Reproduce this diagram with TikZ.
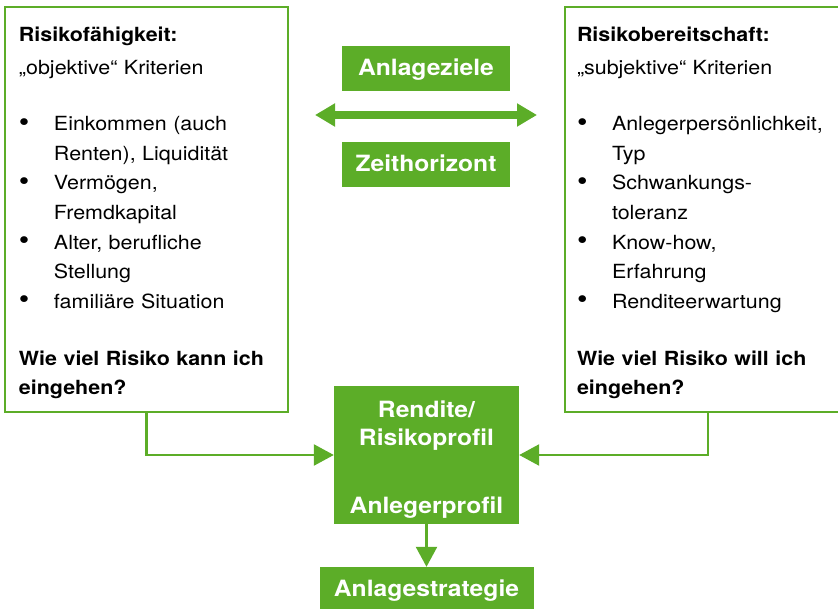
\documentclass[tikz,border=0pt]{standalone}
\usepackage{fontspec}
\setmainfont{TeX Gyre Heros}[FakeStretch=1.1]
\usetikzlibrary{arrows.meta}

\definecolor{anlagegruen}{RGB}{92,173,40}
\newlength{\einzug}
\setlength{\einzug}{35pt}
\newcommand{\punkt}{\makebox[\einzug][l]{\raisebox{-0.6pt}{\scalebox{1.4}{\textbullet}}}}
\newcommand{\weiter}{\hspace*{\einzug}}

\tikzset{
  rahmen/.style={draw=anlagegruen, line width=2.5pt, align=left, inner sep=0pt,
    minimum height=405pt, font=\fontsize{19.5}{29.6}\selectfont},
  gruenbox/.style={fill=anlagegruen, text=white, align=center, inner sep=0pt,
    font=\bfseries\fontsize{22.4}{28}\selectfont},
  gruenzeile/.style={gruenbox, text height=17pt, text depth=2.6pt},
  verbinder/.style={draw=anlagegruen, line width=2.5pt, -{Triangle[length=20pt,width=21pt]}}
}

\begin{document}
\begin{tikzpicture}[x=1pt,y=-1pt]
\useasboundingbox (0,0) rectangle (838,609);
\clip (0,0) rectangle (838,609);

% Risikofaehigkeit
\node[rahmen, minimum width=283pt, text width=255pt] (faehigkeit) at (146.5,209.5) {%
\rule{0pt}{22pt}\textbf{Risikofähigkeit:}\\[3.4pt]
„objektive“ Kriterien\\[26.4pt]
\punkt Einkommen (auch\\
\weiter Renten), Liquidität\\
\punkt Vermögen,\\
\weiter Fremdkapital\\
\punkt Alter, berufliche\\
\weiter Stellung\\
\punkt familiäre Situation\\[27.4pt]
\textbf{Wie viel Risiko kann ich}\\
\textbf{eingehen?}};

% Risikobereitschaft
\node[rahmen, minimum width=286pt, text width=262pt] (bereitschaft) at (708,209.5) {%
\rule{0pt}{22pt}\textbf{Risikobereitschaft:}\\[3.4pt]
„subjektive“ Kriterien\\[26.4pt]
\punkt Anlegerpersönlichkeit,\\
\weiter Typ\\
\punkt Schwankungs-\\
\weiter toleranz\\
\punkt Know-how,\\
\weiter Erfahrung\\
\punkt Renditeerwartung\\[27.4pt]
\textbf{Wie viel Risiko will ich}\\
\textbf{eingehen?}};

% Mitte
\node[gruenzeile, minimum width=168pt, minimum height=45pt] (ziele) at (426,68.5) {Anlageziele};
\node[gruenzeile, minimum width=168pt, minimum height=45pt, below of=ziele, node distance=96pt] (horizont) {Zeithorizont};
\coordinate (pfeillinks) at (315,115);
\coordinate (pfeilrechts) at (537,115);
\draw[draw=anlagegruen, line width=8pt, {Triangle[length=20pt,width=22pt]}-{Triangle[length=20pt,width=22pt]}] (pfeillinks) -- (pfeilrechts);

\node[gruenbox, minimum width=185pt, minimum height=138pt] (profil) at (426.5,455) {\rule{0pt}{25pt}Rendite/\\Risikoprofil\\[40pt]Anlegerprofil};
\node[gruenzeile, minimum width=214pt, minimum height=44pt, below of=profil, node distance=134pt] (strategie) {Anlagestrategie};

\draw[verbinder] (faehigkeit.south) |- (profil.west);
\draw[verbinder] (bereitschaft.south) |- (profil.east);
\draw[verbinder] (profil) -- (strategie);
\end{tikzpicture}
\end{document}
